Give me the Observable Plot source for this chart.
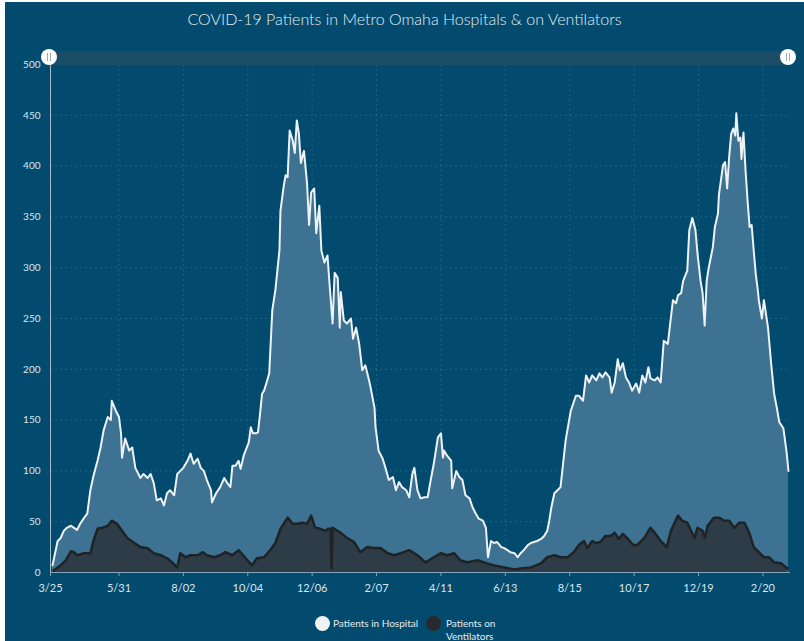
<!DOCTYPE html>
<html>
<head>
<meta charset="utf-8">
<script src="https://cdn.jsdelivr.net/npm/d3@7"></script>
<script src="https://cdn.jsdelivr.net/npm/@observablehq/plot@0.6"></script>
<style>
  body { margin: 0; background: #ffffff; font-family: Lato, "Open Sans", sans-serif; }
  #frame { position: absolute; left: 5px; top: 2px; width: 799px; height: 639px; background: #024b6f; overflow: hidden; }
  #title { position: absolute; left: 0; top: 0; width: 799px; height: 40px; text-align: center; color: #e3ebf0; font-size: 16px; line-height: 33px; font-weight: 300; }
  #chart { position: absolute; left: 0; top: 40px; }
  #scroll { position: absolute; left: 45px; top: 49px; width: 740px; height: 14px; background: #1c4d66; }
  .handle { position: absolute; top: 47px; width: 16px; height: 16px; border-radius: 50%; background: #ffffff; }
  .handle::after { content: ""; position: absolute; left: 6px; top: 4px; width: 2px; height: 8px; border-left: 1px solid #9aa; border-right: 1px solid #9aa; }
  .leg { position: absolute; color: #e3ebf0; font-size: 10px; line-height: 13px; }
  .dot { position: absolute; width: 15px; height: 15px; border-radius: 50%; }
</style>
</head>
<body>
<div id="frame">
  <div id="title">COVID-19 Patients in Metro Omaha Hospitals &amp; on Ventilators</div>
  <div id="chart"></div>
  <div id="scroll"></div>
  <div class="handle" style="left:36px"></div>
  <div class="handle" style="left:775px"></div>
  <div class="dot" style="left:310px; top:614px; background:#eef2f4"></div>
  <div class="leg" style="left:328px; top:615px">Patients in Hospital</div>
  <div class="dot" style="left:421px; top:614px; background:#262a2e"></div>
  <div class="leg" style="left:441px; top:615px">Patients on<br>Ventilators</div>
</div>
<script>
// Day offsets are days since the first date (2020-03-25)
const startDate = "2020-03-25";
const endDate = "2022-03-19";

const hospitalDays = [2,7,10,13,16,20,23,26,29,33,36,39,42,46,49,52,56,59,60,64,67,69,70,73,77,80,83,88,91,95,98,101,104,108,111,114,117,121,124,127,130,134,137,140,144,147,150,153,157,158,162,166,170,173,176,178,181,184,186,189,192,194,196,198,201,203,205,207,209,212,214,217,220,224,225,228,230,232,234,237,239,241,243,245,248,251,253,255,258,260,263,265,268,271,273,276,278,281,283,284,287,290,294,296,299,302,305,308,311,313,317,318,321,325,328,331,335,338,341,344,348,351,354,356,359,362,366,369,372,375,379,382,384,385,388,392,393,397,400,403,406,410,413,416,419,423,426,428,431,434,437,441,444,447,450,454,457,460,463,467,470,473,476,480,483,486,488,490,493,496,499,504,509,514,517,521,524,527,530,534,537,540,543,547,549,552,555,557,560,563,566,569,573,576,579,582,585,587,591,594,597,600,604,607,609,612,614,617,619,623,625,628,631,633,636,638,640,642,644,648,650,653,654,658,660,662,664,666,668,670,671,673,675,676,678,680,682,684,686,688,690,692,693,696,698,702,705,708,711,713,717,720,722];
const hospitalValues = [7,31,34,41,44,46,44,42,48,54,58,81,95,110,123,140,153,150,169,159,153,137,113,132,120,123,103,93,97,93,97,88,71,73,66,78,81,76,97,100,103,110,117,107,112,103,100,91,81,69,78,84,93,88,84,105,105,110,102,115,123,128,143,137,137,138,156,176,179,189,196,258,278,317,356,379,391,389,435,425,413,445,432,403,415,383,342,374,378,334,361,317,305,312,284,245,295,290,241,276,248,245,250,230,241,225,199,204,192,183,162,143,120,112,102,91,94,81,89,84,81,74,97,103,81,73,74,74,91,107,133,137,113,120,115,110,83,100,94,91,76,73,64,58,53,51,44,15,31,29,30,25,24,22,20,19,15,19,22,27,29,30,31,33,36,41,51,64,78,81,84,130,159,174,174,169,194,187,194,189,196,192,197,192,177,187,210,199,206,192,187,179,186,177,194,187,202,191,189,192,187,228,225,251,268,265,273,275,287,297,337,349,337,314,287,275,243,287,300,320,340,353,372,401,404,378,409,432,437,430,452,425,428,407,433,396,366,340,342,317,294,278,268,250,268,241,206,176,160,148,142,120,100];

const ventDays = [3,10,15,20,23,26,33,39,42,46,51,56,60,65,70,75,82,88,95,101,108,114,119,124,127,132,137,144,149,153,160,166,171,178,184,191,197,202,209,215,220,225,232,237,242,246,251,255,259,264,269,272,274,275,276,284,290,297,303,310,317,323,330,336,343,351,359,367,375,382,388,395,401,408,418,427,434,444,454,460,470,480,486,493,499,506,512,517,522,525,530,534,538,543,548,552,556,560,565,570,574,581,587,592,597,603,607,614,618,623,630,633,638,640,643,649,654,659,664,669,674,679,684,688,693,698,703,708,715,721];
const ventValues = [2,7,12,21,20,17,19,19,31,43,44,46,51,48,41,34,29,25,24,19,17,14,10,5,19,15,17,17,20,17,15,17,20,17,22,14,7,14,15,22,29,43,54,48,48,49,48,56,44,43,41,43,43,4,44,39,34,30,20,25,24,24,19,17,19,22,17,10,15,19,17,19,12,10,12,9,7,5,3,4,5,9,15,17,15,15,20,27,31,24,31,29,30,36,36,39,33,38,33,27,27,34,44,38,31,25,41,56,51,49,34,44,41,34,46,54,54,51,51,44,49,49,38,25,20,15,15,10,9,4];

const yTicks = [0,50,100,150,200,250,300,350,400,450,500];
const xTickDates = ["2020-03-25","2020-05-31","2020-08-02","2020-10-04","2020-12-06","2021-02-07","2021-04-11","2021-06-13","2021-08-15","2021-10-17","2021-12-19","2022-02-20"];

const start = new Date(startDate + "T00:00:00Z");
const toDate = d => d3.utcDay.offset(start, d);
const hospital = hospitalDays.map((d, i) => ({date: toDate(d), value: hospitalValues[i]}));
const vent = ventDays.map((d, i) => ({date: toDate(d), value: ventValues[i]}));
const xTicks = xTickDates.map(s => new Date(s + "T00:00:00Z"));
const xDomain = [start, new Date(endDate + "T00:00:00Z")];

const labelColor = "#dbe5ec";
const gridColor = "#ffffff";

const chart = Plot.plot({
  width: 799,
  height: 560,
  marginLeft: 45,
  marginRight: 14,
  marginTop: 22,
  marginBottom: 30,
  style: {background: "transparent", fontFamily: "Lato, 'Open Sans', sans-serif"},
  x: {type: "utc", domain: xDomain},
  y: {domain: [0, 500]},
  marks: [
    Plot.gridY(yTicks, {stroke: gridColor, strokeOpacity: 0.13, strokeDasharray: "2,3"}),
    Plot.gridX(xTicks, {stroke: gridColor, strokeOpacity: 0.13, strokeDasharray: "2,3"}),
    Plot.areaY(hospital, {x: "date", y: "value", fill: "#3d7292", fillOpacity: 1}),
    Plot.lineY(hospital, {x: "date", y: "value", stroke: "#eef2f4", strokeWidth: 2}),
    Plot.areaY(vent, {x: "date", y: "value", fill: "#2e3c48"}),
    Plot.lineY(vent, {x: "date", y: "value", stroke: "#1f2326", strokeWidth: 2.5}),
    Plot.ruleX([start], {stroke: "#c9d6de", strokeWidth: 1, strokeOpacity: 0.8}),
    Plot.ruleY([0], {stroke: "#7fa6bd", strokeWidth: 1}),
    Plot.axisY(yTicks, {tickSize: 0, tickPadding: 10, fill: labelColor, fontSize: 10, label: null}),
    Plot.axisX(xTicks, {tickSize: 4, tickPadding: 8, stroke: "#7fa6bd", fill: labelColor, fontSize: 11, label: null, tickFormat: d3.utcFormat("%-m/%d")})
  ]
});
document.getElementById("chart").appendChild(chart);
</script>
</body>
</html>
